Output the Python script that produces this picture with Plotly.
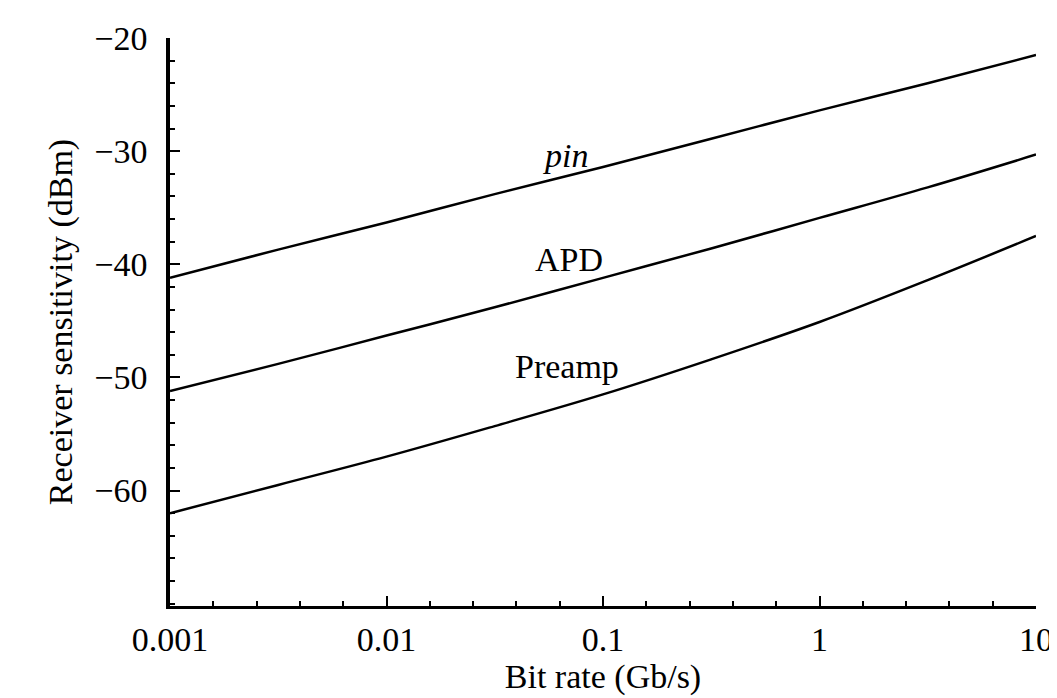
import math
import plotly.graph_objects as go

bit_rate = [0.001, 0.00316, 0.01, 0.0316, 0.1, 0.316, 1, 3.16, 10]
pin = [-41.2, -38.7, -36.3, -33.8, -31.4, -28.9, -26.4, -24.0, -21.5]
apd = [-51.2, -48.8, -46.3, -43.8, -41.2, -38.6, -35.9, -33.2, -30.3]
preamp = [-62.0, -59.5, -57.0, -54.3, -51.5, -48.4, -45.1, -41.4, -37.5]

x_tickvals = [0.001, 0.01, 0.1, 1, 10]
x_ticktext = ["0.001", "0.01", "0.1", "1", "10"]
y_tickvals = [-60, -50, -40, -30, -20]

labels = [("<i>pin</i>", 0.0674, -30.4), ("APD", 0.0697, -39.6), ("Preamp", 0.0682, -49.0)]

FONT = "Liberation Serif, Times New Roman, serif"
FS = 34

fig = go.Figure()
for name, ys in [("pin", pin), ("APD", apd), ("Preamp", preamp)]:
    fig.add_trace(go.Scatter(x=bit_rate, y=ys, mode="lines", name=name,
                             line=dict(color="black", width=2.5, shape="spline"),
                             showlegend=False))

for text, xv, yv in labels:
    fig.add_annotation(x=math.log10(xv), y=yv, text=text, showarrow=False,
                       font=dict(family=FONT, size=FS, color="black"),
                       xanchor="center", yanchor="middle")

fig.update_layout(
    width=1057, height=698,
    margin=dict(l=162, r=16, t=28, b=100),
    paper_bgcolor="white", plot_bgcolor="white",
    font=dict(family=FONT, size=FS, color="black"),
)
fig.update_xaxes(
    type="log", range=[-3, 1],
    tickvals=x_tickvals, ticktext=x_ticktext,
    ticks="inside", ticklen=10, tickwidth=2, tickcolor="black",
    minor=dict(dtick=0.2, ticks="inside", ticklen=5, tickwidth=1.5, tickcolor="black"),
    showline=True, linecolor="black", linewidth=3,
    showgrid=False, zeroline=False,
    ticklabelstandoff=1, ticklabeloverflow="allow",
    title=dict(text="Bit rate (Gb/s)", standoff=4, font=dict(family=FONT, size=FS)),
    tickfont=dict(family=FONT, size=FS),
)
fig.update_yaxes(
    range=[-70.2, -20],
    tickvals=y_tickvals,
    ticks="inside", ticklen=10, tickwidth=2, tickcolor="black",
    minor=dict(dtick=2, ticks="inside", ticklen=5, tickwidth=1.5, tickcolor="black"),
    showline=True, linecolor="black", linewidth=3.5,
    showgrid=False, zeroline=False,
    ticklabelstandoff=12,
    title=dict(text="Receiver sensitivity (dBm)", standoff=12, font=dict(family=FONT, size=FS)),
    tickfont=dict(family=FONT, size=FS),
)

fig.write_html("out.html")
